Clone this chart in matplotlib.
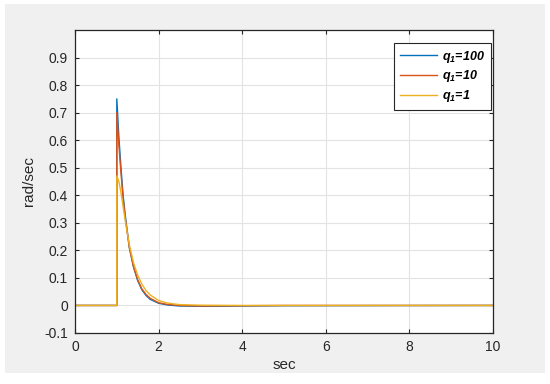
import matplotlib.pyplot as plt
from matplotlib.patches import Rectangle

plt.rcParams['font.family'] = ['Liberation Sans', 'DejaVu Sans']
plt.rcParams['mathtext.fontset'] = 'custom'
plt.rcParams['mathtext.it'] = 'Liberation Sans:italic:bold'
plt.rcParams['mathtext.rm'] = 'Liberation Sans:italic:bold'

# Data
t = [0, 0.999, 1.0, 1.05, 1.1, 1.15, 1.2, 1.3, 1.4, 1.5, 1.6, 1.7, 1.8,
     2.0, 2.2, 2.5, 3.0, 4.0, 5.0, 10.0]
w_q100 = [0, 0, 0.75, 0.61, 0.50, 0.40, 0.33, 0.21, 0.14, 0.09, 0.057, 0.036,
          0.022, 0.008, 0.002, -0.002, -0.003, -0.002, -0.001, 0]
w_q10 = [0, 0, 0.70, 0.58, 0.48, 0.39, 0.32, 0.21, 0.14, 0.093, 0.06, 0.04,
         0.026, 0.01, 0.004, 0.0, -0.002, -0.001, 0, 0]
w_q1 = [0, 0, 0.47, 0.45, 0.41, 0.36, 0.31, 0.22, 0.155, 0.11, 0.077, 0.054,
        0.038, 0.018, 0.009, 0.003, 0.001, 0, 0, 0]
labels = ['$q_1$=100', '$q_1$=10', '$q_1$=1']
colors = ['#0072BD', '#D95319', '#EDB120']

fig = plt.figure(figsize=(5.5, 3.84), dpi=100, facecolor='white')
fig.patches.append(Rectangle((5 / 550, 1 - 373 / 384), 540 / 550, 369 / 384,
                             transform=fig.transFigure, facecolor='#f0f0f0',
                             edgecolor='none', zorder=-10))
ax = fig.add_axes([75 / 550, 1 - 333 / 384, 418 / 550, 303 / 384])

for y, lab, c in zip([w_q100, w_q10, w_q1], labels, colors):
    ax.plot(t, y, color=c, lw=1.0, label=lab)

ax.set_xlim(0, 10)
ax.set_ylim(-0.1, 1.0)
ax.set_xticks([0, 2, 4, 6, 8, 10])
ax.set_yticks([-0.1, 0, 0.1, 0.2, 0.3, 0.4, 0.5, 0.6, 0.7, 0.8, 0.9])
ax.set_yticklabels(['-0.1', '0', '0.1', '0.2', '0.3', '0.4', '0.5', '0.6',
                    '0.7', '0.8', '0.9'])
ax.grid(True, color='#e3e3e3', lw=0.8)
ax.set_axisbelow(True)
ax.tick_params(direction='in', top=True, right=True, length=3, width=0.8,
               labelsize=10, colors='#262626', pad=5)
for s in ax.spines.values():
    s.set_color('#262626')
    s.set_linewidth(0.9)

ax.set_xlabel('sec', fontsize=11, color='#262626', labelpad=3)
ax.set_ylabel('rad/sec', fontsize=11, color='#262626', labelpad=6)

leg = ax.legend(loc='upper right', bbox_to_anchor=(0.995, 0.957),
                prop={'weight': 'bold', 'style': 'italic', 'size': 9},
                fancybox=False, framealpha=1, edgecolor='#262626',
                handlelength=3.0, handletextpad=0.4, borderpad=0.45,
                borderaxespad=0, labelspacing=0.3)
leg.get_frame().set_linewidth(0.8)

fig.savefig('out.png', dpi=100, facecolor=fig.get_facecolor())
